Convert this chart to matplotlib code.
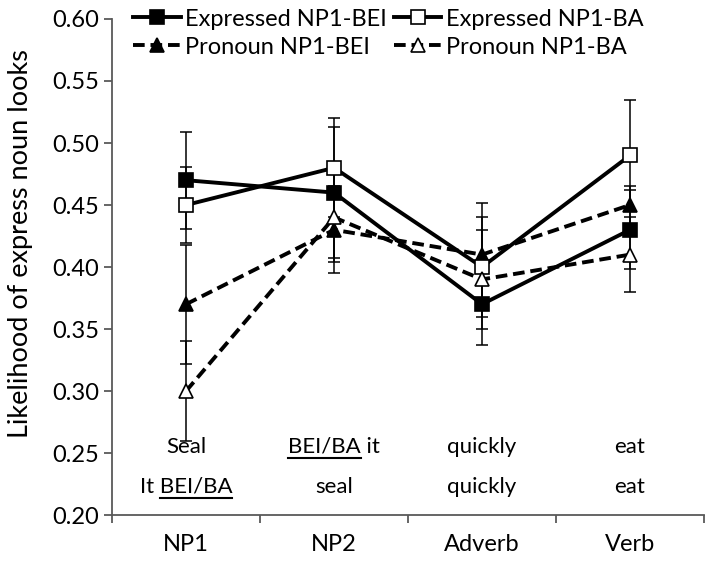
import matplotlib.pyplot as plt
from matplotlib.lines import Line2D

plt.rcParams['font.family'] = ['Lato', 'DejaVu Sans']

# data
positions = ["NP1", "NP2", "Adverb", "Verb"]
x = [1, 2, 3, 4]

exp_bei = [0.47, 0.46, 0.37, 0.43]
exp_bei_err = [0.039, 0.053, 0.033, 0.032]
exp_ba = [0.45, 0.48, 0.40, 0.49]
exp_ba_err = [0.031, 0.040, 0.040, 0.045]
pro_bei = [0.37, 0.43, 0.41, 0.45]
pro_bei_err = [0.048, 0.035, 0.042, 0.015]
pro_ba = [0.30, 0.44, 0.39, 0.41]
pro_ba_err = [0.040, 0.036, 0.040, 0.030]

# words under each region: expressed sentence / pronoun sentence
words_top = ["Seal", "BEI/BA it", "quickly", "eat"]
words_bot = ["It BEI/BA", "seal", "quickly", "eat"]
marked = "BEI/BA"

fig = plt.figure(figsize=(7.14, 5.62), dpi=100)
ax = fig.add_axes([0.157, 0.0836, 0.829, 0.8826])

# legend order is column-major: Expressed BEI, Pronoun BEI | Expressed BA, Pronoun BA
series = [
    (exp_bei, exp_bei_err, "Expressed NP1-BEI", "-", "s", "black"),
    (pro_bei, pro_bei_err, "Pronoun NP1-BEI", (0, (3, 1.5)), "^", "black"),
    (exp_ba, exp_ba_err, "Expressed NP1-BA", "-", "s", "white"),
    (pro_ba, pro_ba_err, "Pronoun NP1-BA", (0, (3, 1.5)), "^", "white"),
]

for vals, err, lab, ls, mk, fc in series:
    ax.errorbar(x, vals, yerr=err, fmt="none", ecolor="black",
                elinewidth=1.1, capsize=4, capthick=1.1, zorder=1)
for vals, err, lab, ls, mk, fc in series:
    ax.plot(x, vals, linestyle=ls, color="black", lw=2.8, marker=mk,
            markersize=10, markerfacecolor=fc, markeredgecolor="black",
            markeredgewidth=1.2, label=lab, zorder=3)

texts = []
for i in range(len(positions)):
    texts.append(ax.text(x[i], 0.255, words_top[i], ha="center",
                         va="center", fontsize=16))
    texts.append(ax.text(x[i], 0.2226, words_bot[i], ha="center",
                         va="center", fontsize=16))

ax.set_xlim(0.5, 4.5)
ax.set_ylim(0.20, 0.60)
ax.set_yticks([0.20, 0.25, 0.30, 0.35, 0.40, 0.45, 0.50, 0.55, 0.60])
ax.set_yticklabels(["0.20", "0.25", "0.30", "0.35", "0.40", "0.45",
                    "0.50", "0.55", "0.60"])
ax.set_xticks([0.5, 1.5, 2.5, 3.5, 4.5])
ax.set_xticklabels([])
ax.set_xticks(x, minor=True)
ax.set_xticklabels(positions, minor=True)
ax.tick_params(axis="x", which="minor", length=0, pad=14, labelsize=17)
ax.tick_params(axis="x", which="major", length=6, color="#595959", width=1.3)
ax.tick_params(axis="y", length=6, color="#595959", width=1.3, labelsize=17)
ax.set_ylabel("Likelihood of express noun looks", fontsize=19.5)
ax.yaxis.set_label_coords(-0.133, 0.548)

for s in ["top", "right"]:
    ax.spines[s].set_visible(False)
for s in ["left", "bottom"]:
    ax.spines[s].set_color("#595959")
    ax.spines[s].set_linewidth(1.3)

ax.legend(loc="upper left", bbox_to_anchor=(0.02, 1.04), ncol=2,
          frameon=False, fontsize=17, handlelength=2.0, handletextpad=0.2,
          columnspacing=0.3, labelspacing=0.3, borderaxespad=0)

# underline the BEI/BA part of the sentence texts
fig.canvas.draw()
renderer = fig.canvas.get_renderer()
for t in texts:
    s = t.get_text()
    if marked not in s:
        continue
    bb = t.get_window_extent(renderer)
    probe = ax.text(0, 0, marked, fontsize=16)
    w_word = probe.get_window_extent(renderer).width
    probe.remove()
    if s.startswith(marked):
        x0 = bb.x0
    else:
        x0 = bb.x1 - w_word
    yline = bb.y0 - 1
    inv = fig.transFigure.inverted()
    p0 = inv.transform((x0, yline))
    p1 = inv.transform((x0 + w_word, yline))
    fig.add_artist(Line2D([p0[0], p1[0]], [p0[1], p1[1]], color="black",
                          lw=1.5, transform=fig.transFigure))

fig.savefig("out.png", dpi=100)
